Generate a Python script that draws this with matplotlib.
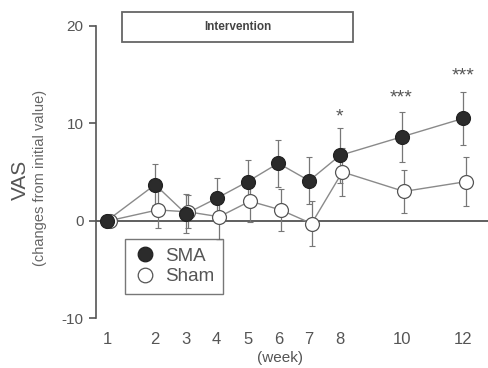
import matplotlib.pyplot as plt
from matplotlib.patches import Rectangle

# data
weeks = [1, 2, 3, 4, 5, 6, 7, 8, 10, 12]
xpos = [0.44, 2, 3, 4, 5, 6, 7, 8, 10, 12]   # week 1 is drawn closer to the axis
sma_mean = [0.0, 3.7, 0.7, 2.3, 4.0, 5.9, 4.1, 6.7, 8.6, 10.5]
sma_err = [0.0, 2.1, 2.0, 2.1, 2.2, 2.4, 2.4, 2.8, 2.6, 2.7]
sham_mean = [0.0, 1.1, 0.9, 0.4, 2.0, 1.1, -0.3, 5.0, 3.0, 4.0]
sham_err = [0.0, 1.9, 1.7, 2.4, 2.1, 2.2, 2.3, 2.5, 2.2, 2.5]
stars = {8: "*", 10: "***", 12: "***"}
star_y = {8: 10.6, 10: 12.6, 12: 14.9}

txt = '#555555'
plt.rcParams['font.family'] = ['Liberation Sans', 'DejaVu Sans']
plt.rcParams['axes.unicode_minus'] = False

fig = plt.figure(figsize=(4.89, 3.68), dpi=100)
ax = fig.add_axes([96 / 489, 1 - 318 / 368, 1 - 96 / 489, (318 - 5) / 368])

sham_x = [p + 0.08 for p in xpos]
ax.errorbar(sham_x, sham_mean, yerr=sham_err, fmt='none', ecolor='#777777',
            elinewidth=0.9, capsize=2, capthick=0.8, zorder=2)
ax.plot(sham_x, sham_mean, '-', color='#8a8a8a', lw=1.0, zorder=2)
ax.plot(sham_x, sham_mean, 'o', ms=10, mfc='white', mec='#555555', mew=0.9,
        zorder=4, label='Sham')

ax.errorbar(xpos, sma_mean, yerr=sma_err, fmt='none', ecolor='#777777',
            elinewidth=0.9, capsize=2, capthick=0.8, zorder=3)
ax.plot(xpos, sma_mean, '-', color='#8a8a8a', lw=1.0, zorder=3)
ax.plot(xpos, sma_mean, 'o', ms=10, mfc='#2b2b2b', mec='#222222', mew=0.9,
        zorder=5, label='SMA')

for w, s in stars.items():
    ax.text(xpos[weeks.index(w)], star_y[w], s, ha='center', va='center',
            fontsize=14, color=txt)

ax.axhline(0, color='#444444', lw=1.2, zorder=1)

ax.set_xlim(0.08, 12.84)
ax.set_ylim(-10, 22.15)
ax.set_yticks([-10, 0, 10, 20])
ax.set_xticks(xpos)
ax.set_xticklabels([str(w) for w in weeks])
for s in ['top', 'right', 'bottom']:
    ax.spines[s].set_visible(False)
ax.spines['left'].set_bounds(-10, 20)
ax.spines['left'].set_color('#555555')
ax.spines['left'].set_linewidth(1.2)
ax.tick_params(axis='y', length=5, width=1.2, color='#555555', labelsize=11,
               labelcolor=txt, pad=4)
ax.tick_params(axis='x', length=0, labelsize=12, labelcolor=txt, pad=10)

# intervention box
ax.add_patch(Rectangle((0.93, 18.3), 8.43 - 0.93, 3.1, fill=False,
                       ec='#666666', lw=1.3, clip_on=False))
ax.text((0.93 + 8.43) / 2, 19.85, 'Intervention', ha='center', va='center',
        fontsize=8.5, fontweight='bold', color='#444444')

fig.text(0.572, 1 - 358 / 368, '(week)', ha='center', va='center',
         fontsize=11, color=txt)
fig.text(20 / 489, 1 - 180 / 368, 'VAS', rotation=90, ha='center',
         va='center', fontsize=15, color=txt)
fig.text(40 / 489, 1 - 178 / 368, '(changes from initial value)', rotation=90,
         ha='center', va='center', fontsize=10.5, color='#666666')

h, l = ax.get_legend_handles_labels()
leg = ax.legend(h[::-1], l[::-1], loc='upper left',
                bbox_to_anchor=((125 - 96) / 393, 1 - (239 - 5) / 313),
                borderaxespad=0, fontsize=13.5, frameon=True, fancybox=False,
                handletextpad=0.5, borderpad=0.45, labelspacing=0.2,
                handlelength=1.2, markerscale=1.05)
leg.get_frame().set_edgecolor('#555555')
leg.get_frame().set_linewidth(1.0)
for t in leg.get_texts():
    t.set_color(txt)

fig.savefig('out.png', dpi=100)
